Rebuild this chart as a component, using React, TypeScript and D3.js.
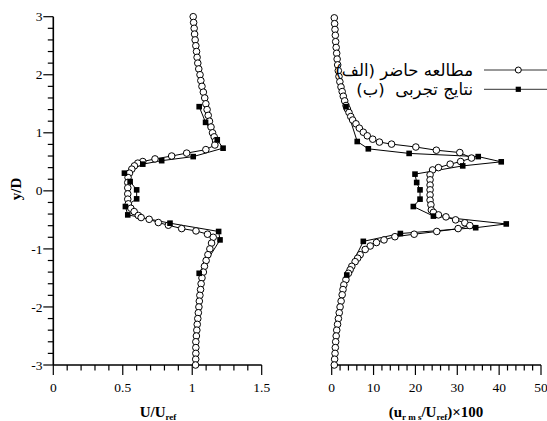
import React from "react";
import * as d3 from "d3";

// ---- data ----
// Left panel: U/Uref vs y/D
const simUY = [3.0,2.9,2.8,2.7,2.6,2.5,2.4,2.3,2.2,2.1,2.0,1.9,1.8,1.7,1.6,1.5,1.4,1.3,1.2,1.1,1.0,
  0.93,0.86,0.79,0.71,0.65,0.60,0.55,0.505,0.477,0.43,0.374,0.305,0.23,0.143,0.052,
  -0.052,-0.143,-0.224,-0.30,-0.357,-0.425,-0.46,-0.49,-0.546,-0.592,-0.65,-0.69,-0.747,-0.80,
  -0.9,-1.0,-1.1,-1.2,-1.3,-1.4,-1.5,-1.6,-1.7,-1.8,-1.9,-2.0,-2.1,-2.2,-2.3,-2.4,-2.5,-2.6,-2.7,-2.8,-2.9,-3.0];
const simU = [1.007,1.010,1.014,1.017,1.021,1.026,1.031,1.035,1.040,1.047,1.056,1.062,1.070,1.080,1.090,1.098,1.107,1.115,1.124,1.135,1.146,
  1.158,1.168,1.163,1.098,0.96,0.852,0.732,0.644,0.608,0.584,0.565,0.548,0.538,0.536,0.536,
  0.536,0.536,0.54,0.558,0.582,0.612,0.632,0.69,0.756,0.828,0.924,1.027,1.11,1.151,
  1.139,1.127,1.113,1.10,1.088,1.08,1.07,1.064,1.06,1.055,1.051,1.048,1.044,1.04,1.036,1.033,1.03,1.026,1.026,1.026,1.025,1.024];
const expUY = [1.45,1.18,0.88,0.735,0.59,0.52,0.46,0.305,0.16,0.017,-0.138,-0.27,-0.414,-0.557,-0.70,-0.845,-1.42];
const expU = [1.05,1.096,1.18,1.222,1.007,0.78,0.644,0.512,0.553,0.60,0.60,0.519,0.536,0.84,1.19,1.20,1.05];

// Right panel: (urms/Uref)x100 vs y/D
const simRY = [2.98,2.88,2.78,2.68,2.57,2.47,2.37,2.27,2.17,2.07,1.97,1.88,1.79,1.71,1.63,1.55,1.47,1.41,1.35,1.28,1.22,1.155,1.08,1.01,0.948,0.89,0.84,0.805,0.755,0.70,
  0.66,0.565,0.505,0.46,0.40,0.36,0.276,0.19,0.10,0.017,-0.07,-0.16,-0.24,-0.33,-0.37,-0.414,-0.448,-0.5,-0.55,-0.598,
  -0.65,-0.70,-0.747,-0.79,-0.845,-0.89,-0.95,-1.01,-1.1,-1.16,-1.22,-1.3,-1.36,-1.42,-1.53,-1.62,-1.7,-1.79,-1.9,-2.0,
  -2.1,-2.2,-2.3,-2.4,-2.5,-2.6,-2.7,-2.8,-2.9,-3.0];
const simR = [0.62,0.7,0.79,0.87,0.95,1.07,1.19,1.3,1.43,1.58,1.74,1.95,2.22,2.5,2.77,3.1,3.42,3.75,4.13,4.55,5.0,5.8,6.6,7.55,8.5,9.8,11.4,14.3,20.1,25.0,
  30.6,33.4,30.8,28.3,25.5,24.1,23.5,23.5,23.5,23.5,23.5,23.5,23.7,23.8,24.3,25.5,27.3,29.6,31.8,33.0,
  30.2,25.1,19.7,15.1,12.5,10.7,9.2,8.0,6.8,6.2,5.6,4.8,4.4,4.0,3.4,2.9,2.7,2.5,2.25,2.0,
  1.8,1.6,1.4,1.2,1.07,0.95,0.87,0.8,0.7,0.62];
const expRY = [1.45,0.85,0.724,0.645,0.59,0.50,0.43,0.288,0.144,0.017,-0.143,-0.27,-0.435,-0.57,-0.635,-0.735,-0.87,-1.45];
const expR = [3.42,6.1,8.75,18.5,35.0,40.5,31.3,19.9,20.3,21.1,21.1,19.5,24.3,41.7,34.4,16.4,7.55,3.6];

const yTickLabels = ["-3", "-2", "-1", "0", "1", "2", "3"];
const xLeftTicks = [0, 0.5, 1, 1.5];
const xLeftTickLabels = ["0", "0.5", "1", "1.5"];
const xRightTicks = [0, 10, 20, 30, 40, 50];
const legendLabels = ["مطالعه حاضر (الف)", "نتایج تجربی  (ب)"];

const W = 547, H = 421;
const serif = "Liberation Serif, Times New Roman, Times, Nimbus Roman, DejaVu Serif, serif";

export default function App() {
  const y = d3.scaleLinear().domain([-3, 3]).range([365, 16.7]);
  const xL = d3.scaleLinear().domain([0, 1.5]).range([53.3, 261.7]);
  const xR = d3.scaleLinear().domain([0, 50]).range([331.7, 541]);

  const line = (xs: number[], ys: number[], sx: any) =>
    d3.line<number>().x((_, i) => sx(xs[i])).y((_, i) => y(ys[i]))(xs) || "";

  const yMinor = d3.range(-3, 3.0001, 0.2);
  const xLMinor = d3.range(0, 1.5001, 0.1);
  const xRMinor = d3.range(0, 50.001, 2);
  const major = 10, minor = 5.5;

  const isMajor = (v: number, step: number) => Math.abs(v / step - Math.round(v / step)) < 1e-6;

  const axisBottom = (sx: any, minorVals: number[], step: number, ticks: number[], labels: string[]) => (
    <g>
      <line x1={sx.range()[0]} x2={sx.range()[1]} y1={365} y2={365} stroke="#000" strokeWidth={1.6} />
      {minorVals.map((v, i) => (
        <line key={i} x1={sx(v)} x2={sx(v)} y1={365} y2={365 + (isMajor(v, step) ? major : minor)} stroke="#000" strokeWidth={1.2} />
      ))}
      {ticks.map((v, i) => (
        <text key={i} x={sx(v)} y={391.5} textAnchor="middle" style={{ fontFamily: serif }} fontSize={13.5}>{labels[i]}</text>
      ))}
    </g>
  );

  return (
    <svg width={W} height={H} style={{ position: "absolute", left: 0, top: 0, background: "#fff" }}>
      <rect width={W} height={H} fill="#fff" />
      {/* left y axis */}
      <line x1={53.3} x2={53.3} y1={16.7} y2={365} stroke="#000" strokeWidth={1.6} />
      {yMinor.map((v, i) => (
        <line key={i} x1={53.3 - (isMajor(v, 1) ? major : minor)} x2={53.3} y1={y(v)} y2={y(v)} stroke="#000" strokeWidth={1.2} />
      ))}
      {d3.range(-3, 4).map((v, i) => (
        <text key={i} x={42.5} y={y(v) + 4.6} textAnchor="end" style={{ fontFamily: serif }} fontSize={13.5}>{yTickLabels[i]}</text>
      ))}
      <text transform="translate(21,189) rotate(-90)" textAnchor="middle" style={{ fontFamily: serif }} fontWeight="bold" fontSize={15}>y/D</text>

      {axisBottom(xL, xLMinor, 0.5, xLeftTicks, xLeftTickLabels)}
      {axisBottom(xR, xRMinor, 10, xRightTicks, xRightTicks.map(String))}

      {/* axis titles */}
      <text x={158} y={417} textAnchor="middle" style={{ fontFamily: serif }} fontWeight="bold" fontSize={15}>
        U/U<tspan fontSize={9} dy={3}>ref</tspan>
      </text>
      <text x={436} y={417} textAnchor="middle" style={{ fontFamily: serif }} fontWeight="bold" fontSize={15}>
        (u<tspan fontSize={9} dy={3} style={{ whiteSpace: "pre" }}>r m s</tspan><tspan dy={-3}>/U</tspan><tspan fontSize={9} dy={3}>ref</tspan><tspan dy={-3}>)×100</tspan>
      </text>

      {/* left panel series */}
      <path d={line(simU, simUY, xL)} fill="none" stroke="#000" strokeWidth={1} />
      <path d={line(expU, expUY, xL)} fill="none" stroke="#000" strokeWidth={1} />
      {simU.map((v, i) => (
        <circle key={i} cx={xL(v)} cy={y(simUY[i])} r={3.3} fill="#fff" stroke="#000" strokeWidth={1} />
      ))}
      {expU.map((v, i) => (
        <rect key={i} x={xL(v) - 2.8} y={y(expUY[i]) - 2.8} width={5.6} height={5.6} fill="#000" />
      ))}

      {/* right panel series */}
      <path d={line(simR, simRY, xR)} fill="none" stroke="#000" strokeWidth={1} />
      <path d={line(expR, expRY, xR)} fill="none" stroke="#000" strokeWidth={1} />
      {simR.map((v, i) => (
        <circle key={i} cx={xR(v)} cy={y(simRY[i])} r={3.3} fill="#fff" stroke="#000" strokeWidth={1} />
      ))}
      {expR.map((v, i) => (
        <rect key={i} x={xR(v) - 2.8} y={y(expRY[i]) - 2.8} width={5.6} height={5.6} fill="#000" />
      ))}

      {/* legend */}
      <g>
        <line x1={484} x2={547} y1={70} y2={70} stroke="#333" strokeWidth={1} />
        <circle cx={518.3} cy={70} r={3} fill="#fff" stroke="#000" strokeWidth={1} />
        <text x={473} y={75.5} direction="rtl" textAnchor="start" style={{ fontFamily: "DejaVu Sans, sans-serif" }} fontSize={16.5}>{legendLabels[0]}</text>
        <line x1={484} x2={547} y1={89.3} y2={89.3} stroke="#333" strokeWidth={1} />
        <rect x={518.3 - 2.6} y={89.3 - 2.6} width={5.2} height={5.2} fill="#000" />
        <text x={473} y={95} direction="rtl" textAnchor="start" style={{ fontFamily: "DejaVu Sans, sans-serif", whiteSpace: "pre" }} fontSize={16.5}>{legendLabels[1]}</text>
      </g>
    </svg>
  );
}
